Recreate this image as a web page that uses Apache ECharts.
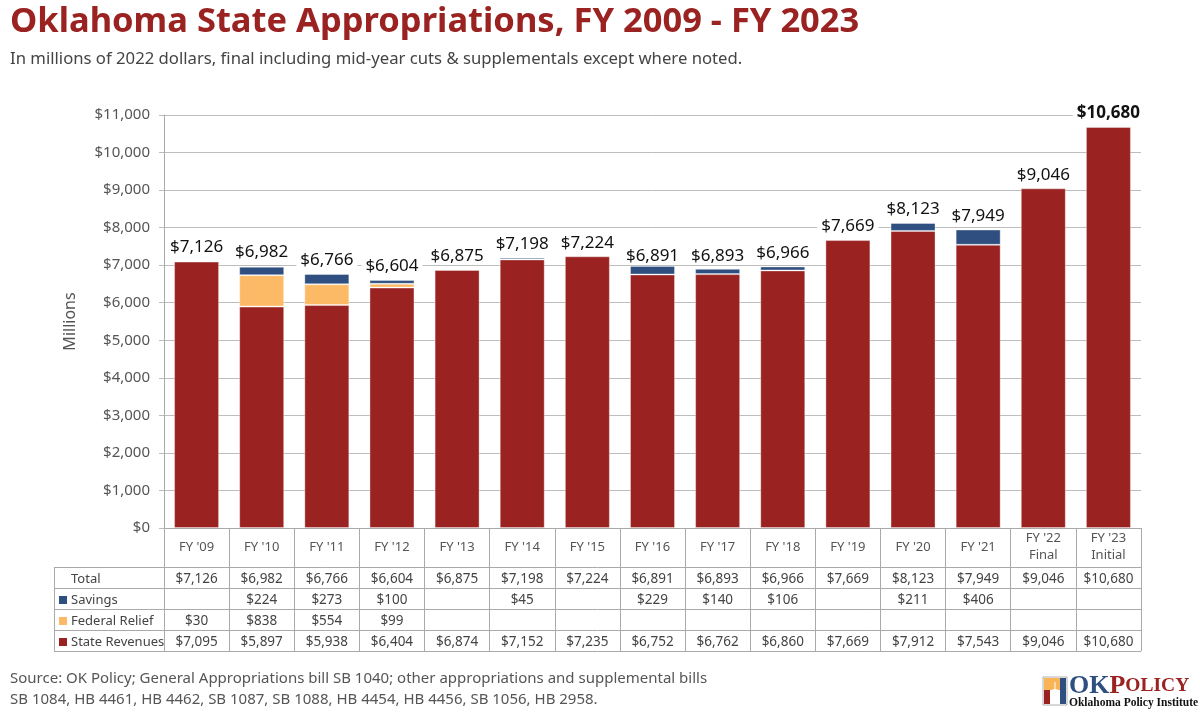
<!DOCTYPE html>
<html>
<head>
<meta charset="utf-8">
<script src="https://cdn.jsdelivr.net/npm/echarts@6/dist/echarts.min.js"></script>
<style>
html,body{margin:0;padding:0;background:#fff;}
#chart{width:1200px;height:717px;}
</style>
</head>
<body>
<div id="chart"></div>
<script>
const categories = ["FY '09","FY '10","FY '11","FY '12","FY '13","FY '14","FY '15","FY '16","FY '17","FY '18","FY '19","FY '20","FY '21","FY '22\nFinal","FY '23\nInitial"];
const totalValues = [7126,6982,6766,6604,6875,7198,7224,6891,6893,6966,7669,8123,7949,9046,10680];
const savingsValues = [null,224,273,100,null,45,null,229,140,106,null,211,406,null,null];
const federalReliefValues = [30,838,554,99,null,null,null,null,null,null,null,null,null,null,null];
const stateRevenueValues = [7095,5897,5938,6404,6874,7152,7235,6752,6762,6860,7669,7912,7543,9046,10680];
const yTicks = {min:0, max:11000, interval:1000};

const COLORS = {state:'#9A2322', federal:'#FDBA66', savings:'#2E4F80'};
const fmt = v => (v === null || v === undefined) ? '' : '$' + v.toLocaleString('en-US');

const chart = echarts.init(document.getElementById('chart'), null, {renderer:'canvas'});
const FONT = '"Noto Sans", "Open Sans", sans-serif';
const SERIF = '"Liberation Serif", "DejaVu Serif", serif';

const option = {
  animation:false,
  backgroundColor:'#fff',
  grid:{left:164, right:59, top:115, bottom:189, containLabel:false},
  xAxis:{
    type:'category', data:categories, boundaryGap:true,
    axisLine:{show:true, lineStyle:{color:'#aaa', width:1}},
    axisTick:{show:true, alignWithLabel:false, length:123, lineStyle:{color:'#aaa', width:1}},
    axisLabel:{interval:0, margin:19, verticalAlign:'middle', color:'#555', fontSize:13, lineHeight:17, fontFamily:FONT}
  },
  yAxis:{
    type:'value', min:yTicks.min, max:yTicks.max, interval:yTicks.interval,
    name:'Millions', nameLocation:'middle', nameGap:86, nameRotate:90,
    nameTextStyle:{color:'#555', fontSize:16, fontFamily:FONT},
    axisLine:{show:true, lineStyle:{color:'#aaa'}},
    axisTick:{show:true, length:5, lineStyle:{color:'#bbb'}},
    axisLabel:{margin:14, color:'#555', fontSize:15, fontFamily:FONT, formatter:v => fmt(v)},
    splitLine:{show:true, lineStyle:{color:'#bdbdbd', width:1}}
  },
  series:[
    {name:'State Revenues', type:'bar', stack:'a', data:stateRevenueValues, barWidth:45,
      itemStyle:{color:COLORS.state, borderColor:'rgba(255,255,255,0.35)', borderWidth:1}},
    {name:'Federal Relief', type:'bar', stack:'a', data:federalReliefValues, barWidth:45,
      itemStyle:{color:COLORS.federal, borderColor:'rgba(255,255,255,0.35)', borderWidth:1}},
    {name:'Savings', type:'bar', stack:'a', data:savingsValues, barWidth:45,
      itemStyle:{color:COLORS.savings, borderColor:'rgba(255,255,255,0.35)', borderWidth:1}},
    {name:'Total', type:'bar', data:totalValues.map((v,i)=> i===totalValues.length-1 ?
        {value:v, label:{fontWeight:'bold'}} : v),
      barWidth:45, barGap:'-100%', z:5, silent:true,
      itemStyle:{color:'rgba(0,0,0,0)'},
      label:{show:true, position:'top', distance:5, color:'#111', fontSize:17, fontFamily:FONT,
        backgroundColor:'#fff', padding:[1,4,0,4], formatter:p => fmt(p.value)}}
  ]
};
chart.setOption(option);

function txt(x, y, text, fill, font, extra){
  return Object.assign({type:'text', z:10, x:x, y:y,
    style:Object.assign({text:text, fill:fill, font:font, textVerticalAlign:'top', verticalAlign:'top'}, extra && extra.style || {})},
    extra && extra.el || {});
}

function buildGraphics(){
  const g = [];
  g.push(txt(10, 5, 'Oklahoma State Appropriations, FY 2009 - FY 2023', '#9A2322', 'bold 34.5px ' + FONT));
  g.push(txt(10, 51, 'In millions of 2022 dollars, final including mid-year cuts & supplementals except where noted.', '#444', '16.7px ' + FONT));
  g.push(txt(10, 671, 'Source: OK Policy; General Appropriations bill SB 1040; other appropriations and supplemental bills', '#555', '15px ' + FONT));
  g.push(txt(10, 692, 'SB 1084, HB 4461, HB 4462, SB 1087, SB 1088, HB 4454, HB 4456, SB 1056, HB 2958.', '#555', '15px ' + FONT));

  const n = categories.length;
  const c0 = chart.convertToPixel({xAxisIndex:0}, 0);
  const c1 = chart.convertToPixel({xAxisIndex:0}, 1);
  const step = c1 - c0;
  const rightEdge = chart.convertToPixel({xAxisIndex:0}, n-1) + step/2;
  const y0 = chart.convertToPixel({yAxisIndex:0}, 0);
  const headerBottom = y0 + 39;
  const rowH = 21;
  const tableLeft = 54;
  const rows = [
    {label:'Total', data:totalValues, color:null},
    {label:'Savings', data:savingsValues, color:COLORS.savings},
    {label:'Federal Relief', data:federalReliefValues, color:COLORS.federal},
    {label:'State Revenues', data:stateRevenueValues, color:COLORS.state}
  ];
  const lineStyle = {stroke:'#aaa', lineWidth:1};
  for(let r=0;r<=rows.length;r++){
    const y = Math.round(headerBottom + r*rowH) + 0.5;
    g.push({type:'line', z:10, shape:{x1:tableLeft, y1:y, x2:rightEdge, y2:y}, style:lineStyle});
  }
  g.push({type:'line', z:10, shape:{x1:tableLeft+0.5, y1:headerBottom, x2:tableLeft+0.5, y2:headerBottom+rows.length*rowH}, style:lineStyle});
  rows.forEach((row, r) => {
    const cy = Math.round(headerBottom + r*rowH + rowH/2) + 1;
    if(row.color){
      g.push({type:'rect', z:10, shape:{x:tableLeft+5, y:cy-4, width:8, height:8}, style:{fill:row.color}});
    }
    g.push({type:'text', z:10, x:tableLeft+17, y:cy,
      style:{text:row.label, fill:'#444', font:'13px ' + FONT, textVerticalAlign:'middle', verticalAlign:'middle'}});
    row.data.forEach((v, i) => {
      if(v === null || v === undefined) return;
      const cx = chart.convertToPixel({xAxisIndex:0}, i);
      g.push({type:'text', z:10, x:cx, y:cy,
        style:{text:fmt(v), fill:'#444', font:'13.5px ' + FONT, align:'center', verticalAlign:'middle', textAlign:'center', textVerticalAlign:'middle'}});
    });
  });

  // Logo
  const lx = 1043, ly = 677;
  g.push({type:'rect', z:10, shape:{x:lx, y:ly, width:24, height:28}, style:{fill:'#fff', stroke:'#999', lineWidth:0.8}});
  g.push({type:'rect', z:11, shape:{x:lx+1, y:ly+1, width:22, height:12}, style:{fill:'#F9B457'}});
  g.push({type:'rect', z:11, shape:{x:lx+1, y:ly+13, width:6, height:14}, style:{fill:'#9A2322'}});
  g.push({type:'rect', z:11, shape:{x:lx+17, y:ly+1, width:6, height:26}, style:{fill:'#2E4F80'}});
  g.push({type:'rect', z:12, shape:{x:lx+7, y:ly+17, width:10, height:10}, style:{fill:'#fff'}});
  g.push({type:'circle', z:12, shape:{cx:lx+12, cy:ly+17, r:5}, style:{fill:'#fff'}});
  g.push({type:'rect', z:12, shape:{x:lx+11.5, y:ly+5, width:1, height:7}, style:{fill:'#fff'}});
  g.push({type:'text', z:10, x:1069, y:673,
    style:{rich:{a:{fill:'#2E4F80', font:'bold 26px ' + SERIF},
                 b:{fill:'#9A2322', font:'bold 26px ' + SERIF},
                 c:{fill:'#9A2322', font:'bold 19.5px ' + SERIF}},
           text:'{a|OK}{b|P}{c|OLICY}', textVerticalAlign:'top', verticalAlign:'top'}});
  g.push(txt(1069, 697, 'Oklahoma Policy Institute', '#111', 'bold 11.5px ' + SERIF));
  chart.setOption({graphic:g});
}
buildGraphics();
</script>
</body>
</html>
